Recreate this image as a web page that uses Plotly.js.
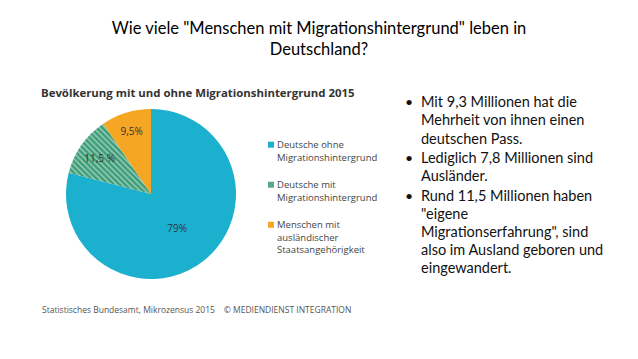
<!DOCTYPE html>
<html>
<head>
<meta charset="utf-8">
<script src="https://cdn.plot.ly/plotly-3.0.1.min.js"></script>
<style>
html,body{margin:0;padding:0;background:#fff;}
#chart{width:638px;height:359px;}
#chart .legend .legendpoints path{transform: translate(34px, 0px) scale(0.5);}
</style>
</head>
<body>
<div id="chart"></div>
<script>
// Data
const categories = [
  "Deutsche ohne<br>Migrationshintergrund<br> ",
  "Deutsche mit<br>Migrationshintergrund<br> ",
  "Menschen mit<br>ausländischer<br>Staatsangehörigkeit"
];
const shares = [79, 11.5, 9.5];
const pctLabels = ["79%", "11,5 %", "9,5%"];
const sliceColors = ["#1BB0CE", "#3F9C78", "#F5A623"];

const pageTitle = 'Wie viele "Menschen mit Migrationshintergrund" leben in<br>Deutschland?';
const chartTitle = "Bevölkerung mit und ohne Migrationshintergrund 2015";
const sourceText = "Statistisches Bundesamt, Mikrozensus 2015    © MEDIENDIENST INTEGRATION";
const bulletItems = [
  ["Mit 9,3 Millionen hat die", "Mehrheit von ihnen einen", "deutschen Pass."],
  ["Lediglich 7,8 Millionen sind", "Ausländer."],
  ["Rund 11,5 Millionen haben", "\"eigene", "Migrationserfahrung\", sind", "also im Ausland geboren und", "eingewandert."]
];

const W = 638, H = 359;
const px = x => x / W;
const py = y => 1 - y / H;

const trace = {
  type: "pie",
  labels: categories,
  values: shares,
  text: pctLabels,
  textinfo: "text",
  textposition: "inside",
  insidetextorientation: "horizontal",
  sort: false,
  direction: "clockwise",
  rotation: 0,
  marker: {
    colors: sliceColors,
    line: {width: 0},
    pattern: {shape: ["", "\\", ""], fgcolor: "#9fd3bd", bgcolor: "#3F9C78", size: 4, solidity: 0.35}
  },
  textfont: {family: "Open Sans", size: 10, color: "#333333"},
  domain: {x: [px(66), px(236)], y: [py(279), py(109)]},
  hoverinfo: "label+percent"
};

const annotations = [];
annotations.push({
  text: chartTitle, xref: "paper", yref: "paper", x: px(39), y: py(92),
  xanchor: "left", yanchor: "middle", showarrow: false,
  font: {family: "Open Sans", size: 11.4, color: "#333333", weight: "bold"}
});
annotations.push({
  text: sourceText, xref: "paper", yref: "paper", x: px(40), y: py(309),
  xanchor: "left", yanchor: "middle", showarrow: false,
  font: {family: "Open Sans", size: 8.5, color: "#555555"}
});

// bullet text lines
let yLine = 101.7;
const lineGap = 18.2, bulletGap = 1.2;
bulletItems.forEach((item, bi) => {
  if (bi > 0) yLine += bulletGap;
  annotations.push({
    text: "•", xref: "paper", yref: "paper", x: px(409), y: py(yLine),
    xanchor: "center", yanchor: "middle", showarrow: false,
    font: {family: "Lato", size: 14, color: "#111111"}
  });
  item.forEach((line, li) => {
    annotations.push({
      text: line, xref: "paper", yref: "paper", x: px(419), y: py(yLine),
      xanchor: "left", yanchor: "middle", showarrow: false,
      font: {family: "Lato", size: 14.5, color: "#111111"}
    });
    yLine += lineGap;
  });
});

const layout = {
  width: W, height: H,
  margin: {l: 0, r: 0, t: 0, b: 0},
  paper_bgcolor: "#ffffff",
  title: {
    text: pageTitle, x: 0.5, xanchor: "center", y: py(34), yanchor: "top",
    font: {family: "Lato", size: 16.5, color: "#000000"}
  },
  showlegend: true,
  legend: {
    x: px(237), y: py(132), xanchor: "left", yanchor: "top",
    valign: "top", itemwidth: 30,
    font: {family: "Open Sans", size: 9.5, color: "#444444"},
    bgcolor: "rgba(0,0,0,0)"
  },
  annotations: annotations
};

Plotly.newPlot("chart", [trace], layout, {displayModeBar: false, staticPlot: true});
</script>
</body>
</html>
